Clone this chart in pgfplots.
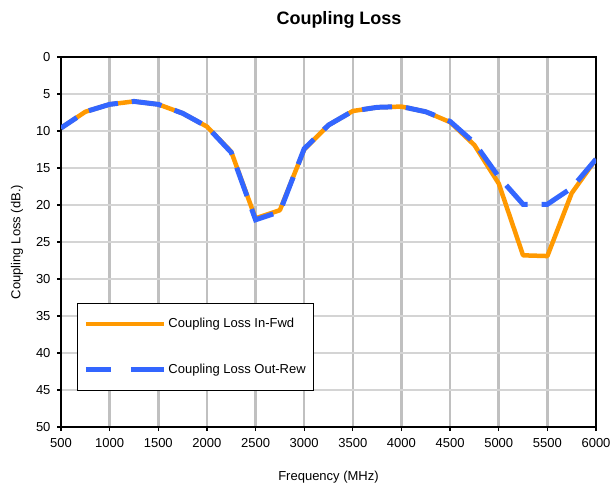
\documentclass[border=0pt]{standalone}
\usepackage{pgfplots}
\pgfplotsset{compat=1.18}
\usepackage{fontspec}
\setmainfont{Liberation Sans}
\usetikzlibrary{calc}

\definecolor{lossorange}{RGB}{255,153,0}
\definecolor{lossblue}{RGB}{51,102,255}
\definecolor{vgrid}{RGB}{192,192,192}
\definecolor{hgrid}{RGB}{212,212,212}

\begin{document}
\begin{tikzpicture}
\begin{axis}[
  scale only axis,
  width=535pt, height=370pt,
  xmin=500, xmax=6000,
  ymin=0, ymax=50,
  y dir=reverse,
  xtick={500,1000,...,6000},
  ytick={0,5,...,50},
  tick pos=left,
  tick align=outside,
  major tick length=4pt,
  every tick/.style={black, line width=1.2pt},
  axis line style={black, line width=1.8pt},
  xmajorgrids, ymajorgrids,
  x grid style={vgrid, line width=2.6pt},
  y grid style={hgrid, line width=1.6pt},
  ticklabel style={font=\fontsize{13}{15}\selectfont},
  xticklabel style={yshift=-4pt},
  yticklabel style={xshift=-3pt},
  /pgf/number format/assume math mode=true,
  /pgf/number format/1000 sep={},
  legend style={at={(0.03,0.335)}, anchor=north west,
    draw=black, line width=0.8pt,
    font=\fontsize{13}{15}\selectfont,
    row sep=31pt, inner xsep=6pt, inner ysep=13pt},
  legend cell align=left,
  legend image code/.code={\draw[#1, line cap=butt] (0pt,0pt) -- (78pt,0pt);},
]
\addplot[lossorange, line width=4.5pt, line join=round] coordinates {
  (500,9.6) (750,7.4) (1000,6.4) (1250,6.0) (1500,6.4) (1750,7.6)
  (2000,9.4) (2250,12.8) (2500,21.8) (2750,20.7) (3000,12.5) (3250,9.2)
  (3500,7.3) (3750,6.8) (4000,6.7) (4250,7.4) (4500,8.8) (4750,11.9)
  (5000,17.1) (5250,26.8) (5500,26.9) (5750,18.4) (6000,13.8)
};
\addlegendentry{Coupling Loss In-Fwd}
\addplot[lossblue, line width=5pt, dash pattern=on 30pt off 14pt, dash phase=11pt, line cap=butt,
  legend image code/.code={\draw[lossblue, line width=5pt, line cap=butt, dash pattern=on 36pt off 20pt] (0pt,0pt) -- (78pt,0pt);}] coordinates {
  (500,9.6) (750,7.4) (1000,6.4) (1250,6.0) (1500,6.4) (1750,7.6)
  (2000,9.4) (2250,12.9) (2500,22.0) (2750,20.9) (3000,12.4) (3250,9.2)
  (3500,7.3) (3750,6.8) (4000,6.7) (4250,7.4) (4500,8.7) (4750,11.6)
  (5000,16.2) (5250,19.9) (5500,19.9) (5750,17.7) (6000,13.8)
};
\addlegendentry{Coupling Loss Out-Rew}
\coordinate (SW) at (axis description cs:0,0);
\coordinate (NE) at (axis description cs:1,1);
\end{axis}
\node[font=\bfseries\fontsize{18}{21}\selectfont] at ($(SW|-NE)!0.5!(NE)+(10.5pt,37pt)$) {Coupling Loss};
\node[font=\fontsize{13}{15}\selectfont] at ($(SW)!0.5!(SW-|NE)+(0,-50pt)$) {Frequency (MHz)};
\node[font=\fontsize{13}{15}\selectfont, rotate=90] at ($(SW)!0.5!(SW|-NE)+(-44pt,0)$) {Coupling Loss (dB.)};
\pgfresetboundingbox
\path[use as bounding box] ($(SW)+(-61pt,-60pt)$) rectangle ($(NE)+(15pt,57pt)$);
\end{tikzpicture}
\end{document}
